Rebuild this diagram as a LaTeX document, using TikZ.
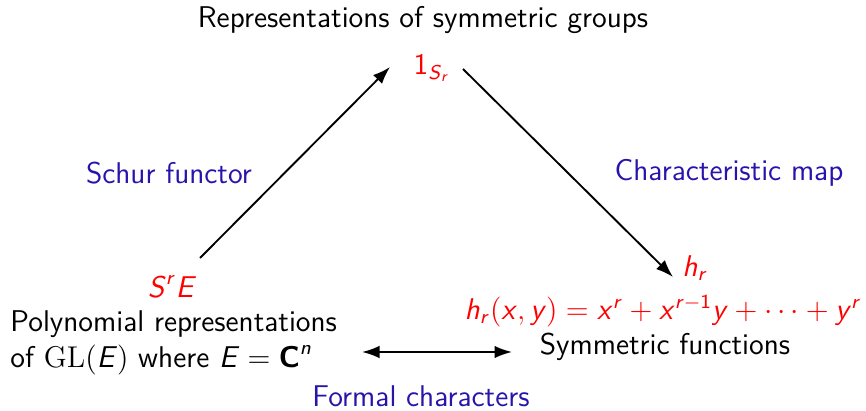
\documentclass[tikz,border=0pt]{standalone}
\usepackage{amsmath}
\usetikzlibrary{arrows.meta}
\definecolor{lblblue}{RGB}{40,20,170}
\newcommand{\sv}[1]{\text{\sffamily\itshape #1\/}}
\newcommand{\su}[1]{\text{\sffamily #1}}
\tikzset{
  txt/.style={font=\fontsize{12}{14.5}\selectfont\sffamily, inner sep=0pt},
  red/.style={txt, text=red},
  lbl/.style={txt, text=lblblue},
  arr/.style={-{Latex[length=7pt,width=5pt]}, line width=0.75pt},
  darr/.style={{Latex[length=7pt,width=5pt]}-{Latex[length=7pt,width=5pt]}, line width=0.75pt}
}
\begin{document}
\begin{tikzpicture}[x=0.4pt,y=-0.4pt]
\useasboundingbox (0,0) rectangle (866,411);
\node[txt] (top) at (423,20) {Representations of symmetric groups};
\node[red] (one) at (432,68) {$\su{1}_{\sv{S}_{\sv{r}}}$};
\node[lbl] (schur) at (169,173) {Schur functor};
\node[lbl] (charmap) at (729,173) {Characteristic map};
\node[red] (sre) at (172,287) {$\sv{S}^{\sv{r}}\sv{E}$};
\node[txt, anchor=west, align=left] (poly) at (10,343) {Polynomial representations\\of $\mathrm{GL}($\sv{E}$)$ where $\sv{E}=\text{\sffamily\bfseries C}^{\sv{n}}$};
\node[red] (hr) at (695,268) {$\sv{h}_{\sv{r}}$};
\node[red] (hrxy) at (663,311) {$\sv{h}_{\sv{r}}(\sv{x},\sv{y})=\sv{x}^{\sv{r}}+\sv{x}^{\sv{r}-\su{1}}\sv{y}+\cdots+\sv{y}^{\sv{r}}$};
\node[txt] (sym) at (665,347) {Symmetric functions};
\node[lbl] (formal) at (421,396) {Formal characters};
\coordinate (a1s) at (200,258);
\coordinate (a1e) at (390,67);
\coordinate (a2s) at (463,69);
\coordinate (a2e) at (673,277);
\coordinate (d1) at (362,352);
\coordinate (d2) at (512,352);
\draw[arr] (a1s) -- (a1e);
\draw[arr] (a2s) -- (a2e);
\draw[darr] (d1) -- (d2);
\end{tikzpicture}
\end{document}
